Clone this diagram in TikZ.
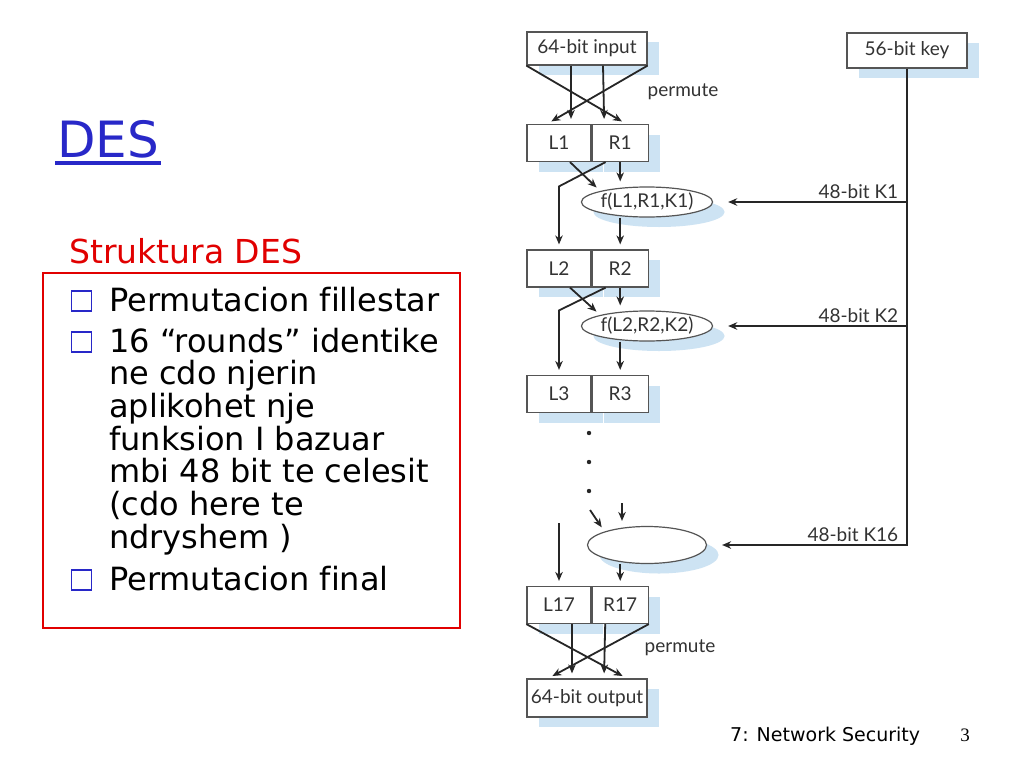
\documentclass[tikz,border=0pt]{standalone}
\usepackage{fontspec}
\setmainfont{DejaVu Sans}[Ligatures=NoCommon]
\newfontfamily\figfont{Lato}
\newfontfamily\pagefont{Liberation Serif}
\usetikzlibrary{shapes.geometric,shadows,calc,arrows.meta,positioning}
\definecolor{titleblue}{RGB}{40,40,200}
\definecolor{boxred}{RGB}{225,0,0}
\definecolor{shadowblue}{RGB}{205,227,243}
\definecolor{boxgray}{RGB}{85,85,85}
\tikzset{
  cell/.style={draw=boxgray, line width=1.2pt, fill=white, minimum height=37pt, inner sep=0pt,
    text=black!80, font=\figfont\fontsize{19}{19}\selectfont,
    drop shadow={shadow xshift=12pt, shadow yshift=-10pt, fill=shadowblue, opacity=1}},
  fbox/.style={cell, ellipse, minimum width=119pt, minimum height=30pt},
  arr/.style={-{Stealth[length=9pt,width=7.5pt]}, line width=1.8pt, black!85, shorten >=5pt},
  lab/.style={text=black!80, font=\figfont\fontsize{19}{19}\selectfont, inner sep=2pt},
  bullet/.style={draw=titleblue, line width=1.2pt, minimum size=20pt, inner sep=0pt},
  item/.style={anchor=base west, inner sep=0pt, font=\fontsize{32}{32}\selectfont},
}
\begin{document}
\begin{tikzpicture}[x=1pt, y=-1pt]
\fill[white] (0,0) rectangle (1024,768);
\useasboundingbox (0,0) rectangle (1024,768);
% slide text
\node[anchor=base west, inner sep=0pt, text=titleblue, font=\fontsize{50}{50}\selectfont] (title) at (57,157) {DES};
\draw[titleblue, line width=3.5pt] ($(title.base west)+(-2,6)$) -- ($(title.base east)+(2,6)$);
\draw[boxred, line width=1.6pt] (43,273) rectangle (460,628);
\node[anchor=base west, inner sep=0pt, text=boxred, font=\fontsize{33}{33}\selectfont] (sub) at (69,263) {Struktura DES};
\node[bullet] (b1) at (81.5,301) {};
\node[item] (p1) at (109,311) {Permutacion fillestar};
\node[bullet] (b2) at (81.5,342) {};
\foreach \t [count=\i from 0] in {{16 “rounds” identike}, {ne cdo njerin}, {aplikohet nje}, {funksion I bazuar}, {mbi 48 bit te celesit}, {(cdo here te}, {ndryshem )}}
  \node[item] (r\i) at (109,352+32.67*\i) {\t};
\node[bullet] (b3) at (81.5,580) {};
\node[item] (p2) at (109,590) {Permutacion final};
\node[anchor=base west, inner sep=0pt, font=\fontsize{19}{19}\selectfont] (foot) at (730,741) {7: Network Security};
\node[anchor=base, inner sep=0pt, font=\pagefont\fontsize{19}{19}\selectfont] (page) at (965,741) {3};
% DES diagram
\node[cell, minimum width=120pt, minimum height=33pt] (in) at (587,48.5) {64-bit input};
\node[cell, minimum width=120pt, minimum height=35pt] (key) at (907,50.5) {56-bit key};
\node[cell, minimum width=64pt] (L1) at (559,143) {L1};
\node[cell, minimum width=56pt, right=0pt of L1] (R1) {R1};
\node[fbox] (f1) at (647,202) {f(L1,R1,K1)};
\node[cell, minimum width=64pt] (L2) at (559,268.5) {L2};
\node[cell, minimum width=56pt, right=0pt of L2] (R2) {R2};
\node[fbox] (f2) at (647,326) {f(L2,R2,K2)};
\node[cell, minimum width=64pt] (L3) at (559,394) {L3};
\node[cell, minimum width=56pt, right=0pt of L3] (R3) {R3};
\node[fbox, minimum height=37pt] (f16) at (647,545) {};
\node[cell, minimum width=64pt] (L17) at (559,605) {L17};
\node[cell, minimum width=56pt, right=0pt of L17] (R17) {R17};
\node[cell, minimum width=120pt, minimum height=38pt] (out) at (587,698) {64-bit output};
% initial permutation
\draw[arr] (in.south west) -- ($(R1.north)+(6,0)$);
\draw[arr] (in.south east) -- ($(L1.north)+(-12,0)$);
\draw[arr] ($(in.south)+(-16,0)$) -- ($(L1.north)+(12,0)$);
\draw[arr] ($(in.south)+(16,0)$) -- ($(R1.north)+(-16,0)$);
\node[lab] (perm1) at (683,92) {permute};
% rounds
\draw[arr] (R1.south) -- (R1.south |- f1.north);
\draw[arr] ($(L1.south)+(11,0)$) -- (f1.north west);
\draw[arr] ($(R1.south west)+(14,0)$) -- (L2.north |- f1.north) -- (L2.north);
\draw[arr] (f1.south -| R2.north) -- (R2.north);
\draw[arr] (R2.south) -- (R2.south |- f2.north);
\draw[arr] ($(L2.south)+(11,0)$) -- (f2.north west);
\draw[arr] ($(R2.south west)+(14,0)$) -- (L3.north |- f2.north) -- (L3.north);
\draw[arr] (f2.south -| R3.north) -- (R3.north);
\foreach \y in {433,462,491}
  \fill[black!85] (589,\y) circle (2.2pt);
\coordinate (d1) at (590,510);
\coordinate (d2) at (622,503);
\coordinate (d3) at (559,523);
\draw[arr] (d1) -- (f16.north west);
\draw[arr] (d2) -- (d2 |- f16.north);
\draw[arr] (d3) -- (L17.north);
\draw[arr] (f16.south -| R17.north) -- (R17.north);
% key schedule
\draw[arr, shorten >=15pt] (key.south) |- (f16.east) node[lab, pos=0.5, above left, xshift=-6pt] {48-bit K16};
\draw[arr, shorten >=15pt] (key.south |- f1.east) -- (f1.east) node[lab, pos=0, above left, xshift=-6pt] {48-bit K1};
\draw[arr, shorten >=15pt] (key.south |- f2.east) -- (f2.east) node[lab, pos=0, above left, xshift=-6pt] {48-bit K2};
% final permutation
\draw[arr] (L17.south west) -- ($(out.north)+(40,0)$);
\draw[arr] (R17.south east) -- ($(out.north)+(-39,0)$);
\draw[arr] ($(L17.south)+(13,0)$) -- ($(out.north)+(-15,0)$);
\draw[arr] ($(R17.south)+(-15,0)$) -- ($(out.north)+(17,0)$);
\node[lab] (perm2) at (680,648) {permute};
\end{tikzpicture}
\end{document}
